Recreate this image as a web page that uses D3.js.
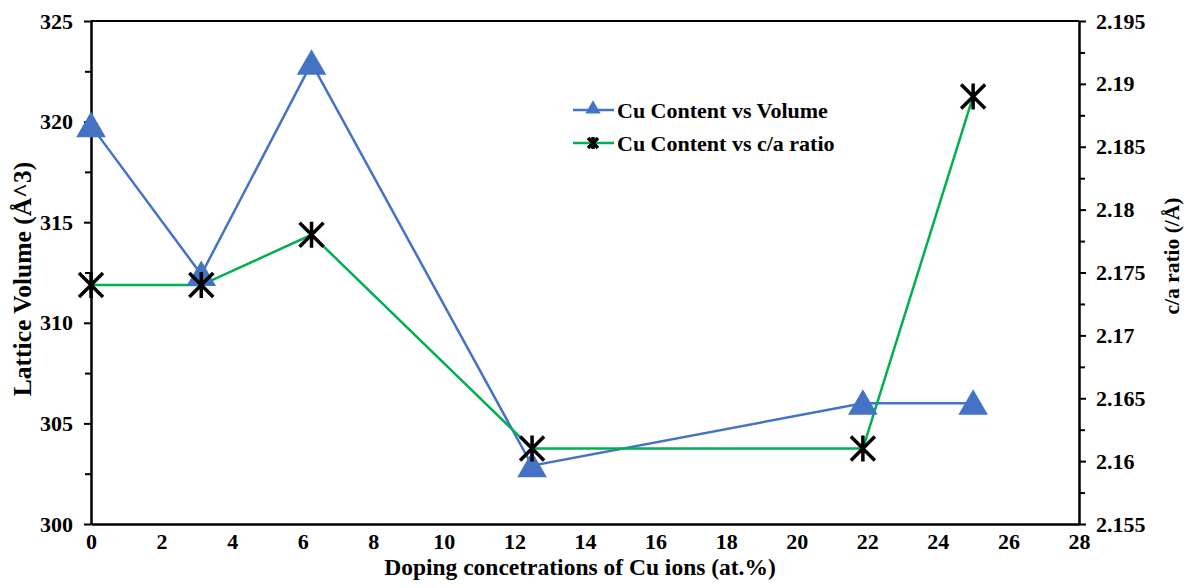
<!DOCTYPE html>
<html>
<head>
<meta charset="utf-8">
<script src="https://cdn.jsdelivr.net/npm/d3@7/dist/d3.min.js"></script>
<style>
  body { margin: 0; background: #fff; }
  text { font-family: "Liberation Serif", "Times New Roman", serif; font-weight: bold; fill: #000; }
</style>
</head>
<body>
<svg id="chart" width="1189" height="588"></svg>
<script>
    'use strict';

    var dopings = [0, 3.125, 6.25, 12.5, 21.875, 25],
        volumes = [319.8, 312.4, 322.9, 302.9, 306.0, 306.0],
        ratios = [2.174, 2.174, 2.178, 2.161, 2.161, 2.189],
        xTicks = [0, 2, 4, 6, 8, 10, 12, 14, 16, 18, 20, 22, 24, 26, 28],
        leftTicks = [300, 305, 310, 315, 320, 325],
        rightTicks = [2.155, 2.16, 2.165, 2.17, 2.175, 2.18, 2.185, 2.19, 2.195],
        seriesNames = ['Cu Content vs Volume', 'Cu Content vs c/a ratio'];

    var margin = { left: 91, right: 110, top: 21, bottom: 64 },
        width = 1189,
        height = 588,
        blue = '#4472C4',
        green = '#00B050';

    var svg = d3.select('#chart');

    var x = d3.scaleLinear().domain([0, 28]).range([margin.left, width - margin.right]),
        yL = d3.scaleLinear().domain([300, 325]).range([height - margin.bottom, margin.top]),
        yR = d3.scaleLinear().domain([2.155, 2.195]).range([height - margin.bottom, margin.top]);

    // top border
    svg.append('line')
        .attr('x1', x(0)).attr('x2', x(28))
        .attr('y1', yL(325)).attr('y2', yL(325))
        .attr('stroke', '#000').attr('stroke-width', 2);

    function styleAxis(g) {
        g.selectAll('path.domain').attr('stroke', '#000').attr('stroke-width', 2.5);
        g.selectAll('.tick line').attr('stroke', '#000').attr('stroke-width', 2);
        g.selectAll('.tick text').style('font-size', '22px');
    }

    // minor ticks
    svg.append('g')
        .attr('transform', 'translate(' + x(0) + ',0)')
        .call(d3.axisLeft(yL).tickValues(d3.range(302.5, 325, 5)).tickSize(6).tickFormat(''))
        .call(styleAxis)
        .select('path.domain').remove();

    svg.append('g')
        .attr('transform', 'translate(' + x(28) + ',0)')
        .call(d3.axisRight(yR).tickValues(d3.range(2.1575, 2.195, 0.005)).tickSize(6).tickFormat(''))
        .call(styleAxis)
        .select('path.domain').remove();

    svg.append('g')
        .attr('transform', 'translate(' + x(0) + ',0)')
        .call(d3.axisLeft(yL).tickValues(leftTicks).tickSize(7).tickSizeOuter(0).tickPadding(11).tickFormat(d3.format('d')))
        .call(styleAxis);

    svg.append('g')
        .attr('transform', 'translate(' + x(28) + ',0)')
        .call(d3.axisRight(yR).tickValues(rightTicks).tickSize(7).tickSizeOuter(0).tickPadding(10).tickFormat(function (d) { return +d.toFixed(3); }))
        .call(styleAxis);

    svg.append('g')
        .attr('transform', 'translate(0,' + yL(300) + ')')
        .call(d3.axisBottom(x).tickValues(xTicks).tickSize(0).tickSizeOuter(0).tickPadding(9))
        .call(styleAxis);

    // axis titles
    svg.append('text')
        .attr('transform', 'translate(31,279) rotate(-90)')
        .attr('text-anchor', 'middle')
        .style('font-size', '25.5px')
        .text('Lattice Volume (Å^3)');

    svg.append('text')
        .attr('transform', 'translate(1179,256) rotate(-90)')
        .attr('text-anchor', 'middle')
        .style('font-size', '21.5px')
        .text('c/a ratio (/Å)');

    svg.append('text')
        .attr('x', x(14) - 5)
        .attr('y', 575)
        .attr('text-anchor', 'middle')
        .style('font-size', '23.5px')
        .text('Doping concetrations of Cu ions (at.%)');

    var volLine = d3.line().x(function (d, i) { return x(dopings[i]); }).y(function (d) { return yL(d); }),
        ratioLine = d3.line().x(function (d, i) { return x(dopings[i]); }).y(function (d) { return yR(d); });

    var triangle = d3.symbol().type(d3.symbolTriangle).size(380),
        star = 'M-12,-12L12,12M-12,12L12,-12M0,-13L0,13';

    svg.append('path')
        .attr('d', volLine(volumes))
        .attr('fill', 'none').attr('stroke', blue).attr('stroke-width', 2.5);

    svg.append('path')
        .attr('d', ratioLine(ratios))
        .attr('fill', 'none').attr('stroke', green).attr('stroke-width', 2.5);

    svg.selectAll('path.tri')
        .data(volumes)
        .enter().append('path')
        .attr('class', 'tri')
        .attr('transform', function (d, i) { return 'translate(' + x(dopings[i]) + ',' + (yL(d) + 3) + ')'; })
        .attr('d', triangle)
        .attr('fill', blue);

    svg.selectAll('path.star')
        .data(ratios)
        .enter().append('path')
        .attr('class', 'star')
        .attr('transform', function (d, i) { return 'translate(' + x(dopings[i]) + ',' + yR(d) + ')'; })
        .attr('d', star)
        .attr('stroke', '#000').attr('stroke-width', 3.5).attr('fill', 'none');

    // legend
    var legend = svg.append('g').attr('transform', 'translate(573,110)');

    seriesNames.forEach(function (name, i) {
        var row = legend.append('g').attr('transform', 'translate(0,' + (i * 33) + ')');

        row.append('line')
            .attr('x1', 0).attr('x2', 41)
            .attr('stroke', i ? green : blue).attr('stroke-width', 2.5);

        if (i) {
            row.append('path')
                .attr('transform', 'translate(20,0)')
                .attr('d', 'M-5,-5L5,5M-5,5L5,-5M0,-6L0,6')
                .attr('stroke', '#000').attr('stroke-width', 3.5);
        } else {
            row.append('path')
                .attr('transform', 'translate(20,-1)')
                .attr('d', d3.symbol().type(d3.symbolTriangle).size(100))
                .attr('fill', blue);
        }

        row.append('text')
            .attr('x', 44)
            .attr('dy', '0.35em')
            .style('font-size', '22px')
            .text(name);
    });
</script>
</body>
</html>
